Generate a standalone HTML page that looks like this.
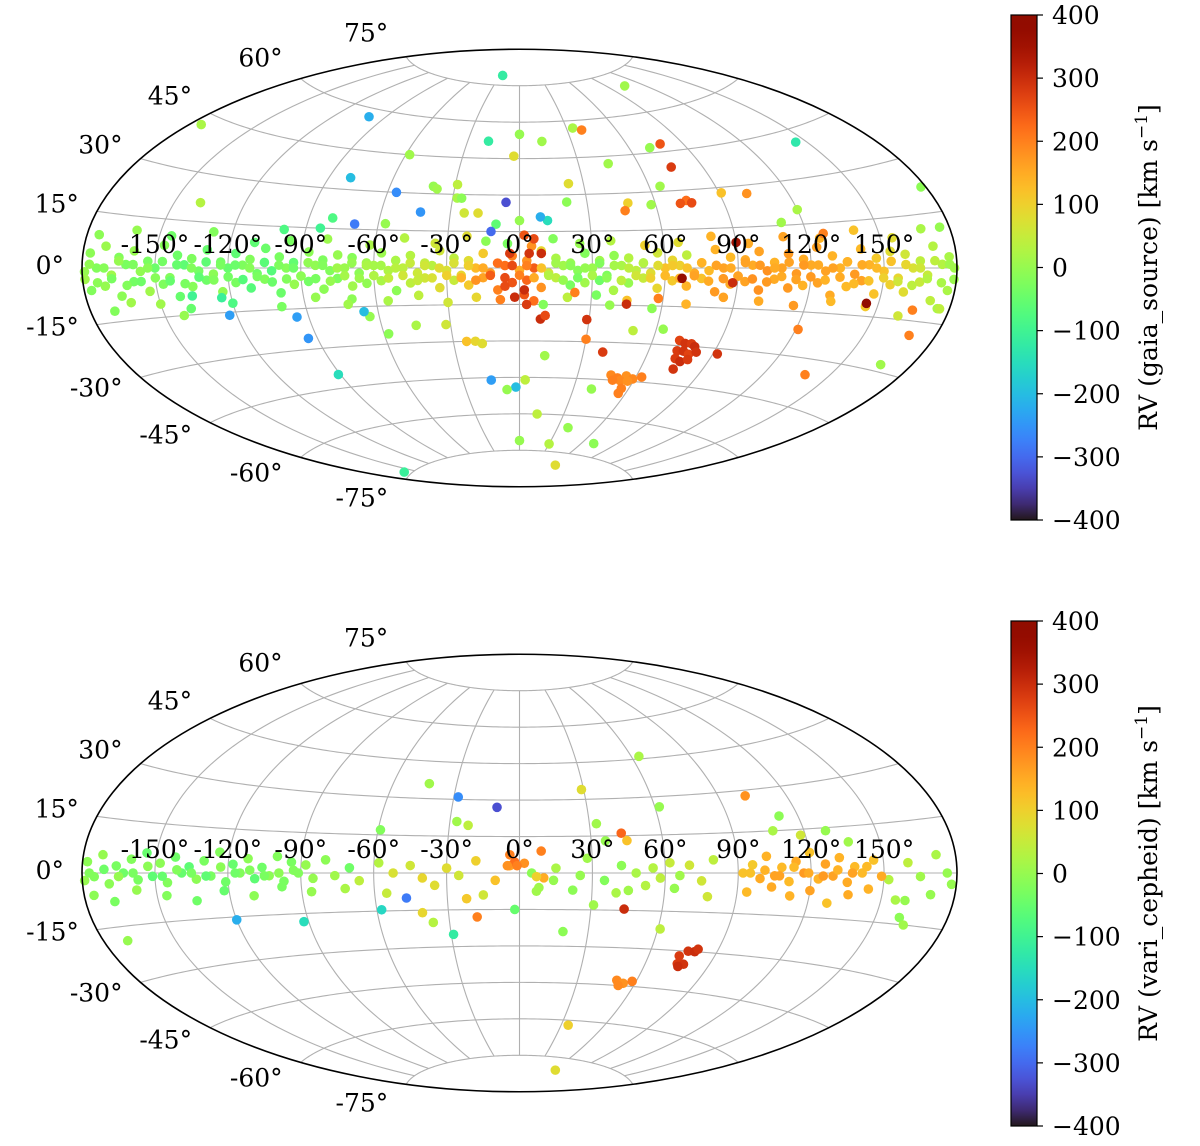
<!DOCTYPE html>
<html><head><meta charset="utf-8"><style>
html,body{margin:0;padding:0;background:#fff;}
svg{display:block;}
text{font-family:"DejaVu Serif","Liberation Serif",serif;fill:#000;}
</style></head>
<body>
<svg id="fig" width="1200" height="1146" viewBox="0 0 1200 1146" xmlns="http://www.w3.org/2000/svg">
<rect width="1200" height="1146" fill="#fff"/>
<defs><linearGradient id="turbo" x1="0" y1="1" x2="0" y2="0"></linearGradient></defs>
</svg>
<script>
// ---------- data: top map (gaia_source) ----------
const band1Lon=[-177,-171,-165,-159,-153,-147,-141,-135,-129,-123,-117,-111,-105,-99,-93,-87,-81,-75,-69,-63,-57,-51,-45,-39,-33,-27,-21,-15,-9,-3,3,9,15,21,27,33,39,45,51,57,63,69,75,81,87,93,99,105,111,117,123,129,135,141,147,153,159,165,171,177];
const band1Lat=[4,6,3,5,2,7,4,3,6,2,5,3,7,4,2,6,3,5,4,2,6,3,5,2,7,4,3,6,2,5,3,7,4,2,6,3,5,4,2,6,3,5,2,7,4,3,6,2,5,3,7,4,2,6,3,5,4,2,6,3];
const band1Rv=[-10,5,-20,0,-30,-15,-40,-25,-50,-35,-60,-20,-45,-30,-55,-10,-25,0,-15,10,5,20,30,45,60,40,80,110,150,200,180,90,20,0,-20,10,-5,30,15,60,90,40,120,140,130,150,160,140,170,150,160,140,150,130,110,80,60,40,30,20];
const band2Lon=[-179,-174,-168,-162,-156,-150,-144,-138,-132,-126,-120,-114,-108,-102,-96,-90,-84,-78,-72,-66,-60,-54,-48,-42,-36,-30,-24,-18,-12,-6,0,6,12,18,24,30,36,42,48,54,60,66,72,78,84,90,96,102,108,114,120,126,132,138,144,150,156,162,168,174,179];
const band2Lat=[-1,0,-2,1,-1,0,-3,1,-1,-2,0,1,-2,-1,0,-3,1,-1,0,-2,1,-1,0,-2,1,-1,-3,0,-2,1,-1,0,-2,1,-1,0,-3,1,-1,-2,0,1,-2,-1,0,-3,1,-1,0,-2,1,-1,0,-2,1,-1,-3,0,-2,1,0];
const band2Rv=[0,-20,10,-30,-5,-45,-20,-60,-35,-10,-50,-25,-40,-70,-15,-30,-5,-20,5,-10,15,25,40,55,35,70,90,130,170,220,150,240,60,10,-15,5,-25,20,40,80,120,100,150,130,160,170,150,180,160,170,150,160,140,170,140,120,90,70,50,30,10];
const band3Lon=[-177,-171,-165,-159,-153,-147,-141,-135,-129,-123,-117,-111,-105,-99,-93,-87,-81,-75,-69,-63,-57,-51,-45,-39,-33,-27,-21,-15,-9,-3,3,9,15,21,27,33,39,45,51,57,63,69,75,81,87,93,99,105,111,117,123,129,135,141,147,153,159,165,171,177];
const band3Lat=[-6,-5,-8,-4,-7,-5,-9,-6,-4,-8,-5,-7,-4,-9,-6,-5,-8,-4,-7,-6,-5,-9,-6,-4,-8,-5,-7,-4,-9,-6,-5,-8,-4,-7,-6,-5,-9,-6,-4,-8,-5,-7,-4,-9,-6,-5,-8,-4,-7,-6,-5,-9,-6,-4,-8,-5,-7,-4,-9,-6];
const band3Rv=[-20,0,-10,-35,10,-25,-50,-15,-40,-5,-30,-70,-20,-45,0,-35,-10,-25,10,-5,20,-10,40,60,80,50,110,160,200,250,230,180,40,-30,10,-40,20,0,50,90,110,140,120,170,150,160,180,150,170,140,160,150,130,160,120,100,80,50,40,20];
const band4Lon=[-175,-160,-145,-128,-110,-95,-80,-62,-48,-35,-22,-14,-5,5,14,25,38,52,66,80,95,110,125,140,155,168];
const band4Lat=[9,11,10,12,9,10,11,9,12,10,13,11,10,9,12,10,11,9,10,12,9,11,10,12,9,11];
const band4Rv=[-10,0,-40,-20,-60,-30,5,20,30,60,80,-10,-30,180,-20,0,30,100,80,140,150,160,140,120,80,20];
const band5Lon=[-170,-150,-138,-120,-100,-85,-70,-55,-42,-30,-18,-8,2,10,20,32,45,58,70,85,100,115,130,145,160,175];
const band5Lat=[-12,-11,-13,-12,-14,-11,-12,-13,-11,-14,-12,-13,-11,-15,-12,-11,-13,-12,-14,-11,-12,-13,-11,-12,-14,-11];
const band5Rv=[-20,10,-50,-80,-30,0,-10,20,40,60,90,200,250,-20,40,-30,120,200,140,160,150,170,130,110,60,20];
const band6Lat=[1,0,2,1,0,2,1,0,2,1,1,0,2,1,0,2,1,0,2,1,1,0,2,1,0,2,1,0,2,1,1,0,2,1,0,2,1,0,2,1,1,0,2,1,0,2,1,0,2,1,1,0,2,1,0,2,1,0,2,1];
const band6Rv=[-5,-15,0,-25,-10,-35,-50,-20,-60,-30,-45,-15,-65,-25,-40,-5,-20,10,0,20,15,35,50,60,80,70,100,150,220,260,200,120,10,-10,0,-20,15,40,30,80,110,120,140,160,150,160,170,150,160,170,150,160,140,150,130,120,90,60,40,10];
const band7Lat=[-3,-4,-3,-5,-4,-3,-4,-5,-3,-4,-3,-4,-3,-5,-4,-3,-4,-5,-3,-4,-3,-4,-3,-5,-4,-3,-4,-5,-3,-4,-3,-4,-3,-5,-4,-3,-4,-5,-3,-4,-3,-4,-3,-5,-4,-3,-4,-5,-3,-4,-3,-4,-3,-5,-4,-3,-4,-5,-3,-4,-3];
const band7Rv=[10,-10,-30,-20,-40,-15,-50,-30,-60,-20,-35,-70,-30,-45,-20,-10,-30,0,15,5,25,45,60,50,70,100,140,180,240,260,200,150,30,0,-30,20,-10,40,60,100,130,140,160,150,170,160,180,170,150,160,170,140,150,130,120,100,60,40,30,20,5];
const topScLon=[-26,-175,-100,-58,-80,-56,-70,-139,-40,-38,-28,-26,-43,-18,0,13,-3,34,39,45,105,71,78,75,65,91,145,102,178,23,120,111,127,74,76,71,48,46,58,90,21,0,-10,-12,-6,-18,-24,-29,12,9,-57,-80,-84,-99,-136,-124,-123,-95,-94,-91,-142,-162,-72,-64,-66,-58,-45,-32,-24,-20,-17,-15,-2,-7,3,12,12,0,30,62,40,71,56,38,39,29,30,38,45,56,50,23,9,11,6,3,2,-4,4,9,6,2,-6,-2];
const topScLat=[79,42,57,45,34.5,30,17,21,33,32,28.5,28.5,22.5,52,55,52,46,57,56,42,70,47,48,39,32,28,41,27,22,34.5,20,16,11.5,26,25,25,26,23,25,9.5,27,19.5,18,15,27,22.5,22.5,34,19.5,21,17.5,19,15,14,-9,-10,-16,-18,-26,-40,-15,-10,-14,-19,-17,-26,-23,-23,-30,-30,-31,-46,-49,-50,-46,-36,-60,-71,-72,-80,-49,-70,-50,-65,-34,-21,-29,-15,-14.5,-16,-25,-10,-21,-19.5,-13.5,-15,-9,6,6,6,12,13.5,-7.5,-12];
const topScRv=[-120,20,-220,10,-200,-260,-280,30,0,10,20,-10,-250,-120,0,10,80,20,200,10,10,0,250,280,10,120,-130,180,-10,80,20,10,200,220,260,250,100,200,10,350,-10,0,-60,-300,-330,80,60,40,-150,-220,0,-80,-100,-80,-100,-110,-240,-240,-250,-150,0,10,10,0,-200,-10,20,60,120,90,80,-240,-200,0,40,10,40,0,30,80,0,-10,200,0,280,290,200,0,300,-10,40,200,300,260,220,280,300,280,290,300,260,250,260,300];
const topLmcLon=[72,75,78,80,73,76,79,82,74,77,80,76,92];
const topLmcLat=[-28,-29,-29,-30,-32,-32,-33,-32,-35,-36,-35,-39,-32];
const topLmcRv=[270,290,280,300,280,290,270,290,280,300,280,290,290];
const topSmcLon=[47,51,55,59,63,53,57,49,56];
const topSmcLat=[-43,-44,-43,-44,-43,-45,-45,-45,-48];
const topSmcRv=[190,200,180,190,200,190,180,200,200];
const topExLon=[121,139,169,167,145,165,63,67,88,176,176,-160];
const topExLat=[-21,-35,-19,-28,-11,-12,-24,-4,-5.5,-11,11,-74];
const topExRv=[200,200,200,10,380,200,0,370,300,40,0,-110];

// ---------- data: bottom map (vari_cepheid) ----------
const bb1Lon=[-178,-172,-166,-160,-154,-148,-142,-136,-130,-124,-118,-112,-106,-100,-94,-88,-80,-70,-58,-45,-30,-18,-4,2,15,28,42,55,62,70,80,96,102,108,114,120,126,132,138,146,160,172];
const bb1Lat=[3,5,2,4,6,3,5,2,4,7,3,5,2,6,4,3,5,2,4,3,2,5,3,4,2,6,3,2,4,3,5,3,6,2,4,7,3,5,2,4,3,5];
const bb1Rv=[-10,0,-30,-20,-50,-10,-40,-60,-30,-20,-50,-10,-40,-20,-30,0,-10,-40,30,60,80,100,160,180,20,10,-10,30,50,60,40,110,140,130,150,120,160,140,130,120,40,20];
const bb2Lon=[-179,-175,-169,-163,-157,-151,-145,-139,-133,-127,-121,-115,-109,-103,-97,-91,-85,-76,-66,-52,-40,-25,-10,5,10,25,35,48,58,66,75,92,99,105,111,117,123,129,135,141,152,165,178];
const bb2Lat=[-2,-1,-3,0,-2,-1,-3,0,-2,-1,-3,0,-2,-1,-3,0,-2,-1,-3,0,-2,-1,-3,0,-2,-1,-3,0,-2,-1,-3,0,-2,-1,-3,0,-2,-1,-3,0,-2,-1,-3];
const bb2Rv=[0,-20,-10,-40,-30,-60,-20,-50,-10,-30,-40,-20,-60,-10,-30,-20,0,10,40,70,90,60,120,-10,150,0,-20,20,40,10,60,120,150,160,130,170,140,160,150,130,30,10,0];
const bb3Lon=[-176,-168,-158,-146,-134,-122,-110,-98,-86,-72,-55,-35,-15,8,22,40,52,64,78,94,104,112,120,128,136,144,156,170];
const bb3Lat=[-6,-8,-5,-7,-9,-6,-8,-5,-7,-6,-8,-5,-9,-6,-7,-8,-5,-6,-9,-7,-5,-8,-6,-10,-7,-5,-8,-6];
const bb3Rv=[-10,-30,0,-20,-40,-50,-10,-30,0,20,50,80,60,10,-10,20,30,0,60,130,150,140,160,120,150,140,20,0];
const bb4Lon=[-177,-171,-165,-159,-153,-147,-141,-135,-129,-123,-117,-111,-105,-99,-93,95,101,107,113,119,125,131,137,143,149];
const bb4Lat=[0,1,-1,0,2,-1,1,0,-1,2,0,1,-1,0,1,0,1,-1,2,0,-1,1,0,2,-1];
const bb4Rv=[-20,-40,0,-30,-10,-50,-20,-30,-60,-10,-40,-20,-30,-10,-20,120,140,160,130,150,170,140,160,130,150];
const botScLon=[64,62,102,29,43,45,36,33,44,31,19,7,-2,-18,-22,-29,-37,-41,-47,-58,-92,-120,-170,-59,-43,-28,-10,-27,-22,35,62,107,112,129,118,137,160,163,160,176,61,45,9,7,14,-4,-2,-5,-1];
const botScLat=[46,26,28,34,16,13,13,20,-14.5,-13,-24,-7.5,-15,-18,-10.5,-25,-20,-16,-10,-14.5,-18,-16,-19,17,36,31,27,21,19.5,-62,-80,15,20,14,13,10,-13,-15,-8,0,-22,-7,9,-1.5,-3,7.5,4.5,3,3];
const botScRv=[20,0,180,80,230,120,0,10,300,10,-10,10,-50,200,110,-120,30,90,-280,-160,-150,-220,0,-20,10,-260,-330,10,40,100,80,20,-10,0,60,10,-10,10,0,0,40,10,200,100,0,200,220,180,200];
const botSmcLon=[50,54,58,52];
const botSmcLat=[-43,-44,-43,-45];
const botSmcRv=[190,180,200,190];
const botLmcLon=[74,77,80,75,78,76,81];
const botLmcLat=[-32,-30,-30,-35,-35,-36,-29];
const botLmcRv=[280,290,300,280,290,300,290];

const lonTicks=[-150,-120,-90,-60,-30,0,30,60,90,120,150];
const latTicks=[75,60,45,30,15,0,-15,-30,-45,-60,-75];
const cbTicks=[400,300,200,100,0,-100,-200,-300,-400];

const topLon=[].concat(band1Lon,band2Lon,band3Lon,band4Lon,band5Lon,band1Lon,band2Lon,topScLon,topLmcLon,topSmcLon,topExLon);
const topLat=[].concat(band1Lat,band2Lat,band3Lat,band4Lat,band5Lat,band6Lat,band7Lat,topScLat,topLmcLat,topSmcLat,topExLat);
const topRv=[].concat(band1Rv,band2Rv,band3Rv,band4Rv,band5Rv,band6Rv,band7Rv,topScRv,topLmcRv,topSmcRv,topExRv);
const botLon=[].concat(bb1Lon,bb2Lon,bb3Lon,bb4Lon,botScLon,botSmcLon,botLmcLon);
const botLat=[].concat(bb1Lat,bb2Lat,bb3Lat,bb4Lat,botScLat,botSmcLat,botLmcLat);
const botRv=[].concat(bb1Rv,bb2Rv,bb3Rv,bb4Rv,botScRv,botSmcRv,botLmcRv);

// ---------- rendering ----------
const NS='http://www.w3.org/2000/svg';
const svg=document.getElementById('fig');
const CX=519.5, SC=437.5/Math.PI;
function turbo(t){t=Math.max(0,Math.min(1,t));
 const r=0.13572138+t*(4.61539260+t*(-42.66032258+t*(132.13108234+t*(-152.94239396+t*59.28637943))));
 const g=0.09140261+t*(2.19418839+t*(4.84296658+t*(-14.18503333+t*(4.27729857+t*2.82956604))));
 const b=0.10667330+t*(12.64194608+t*(-60.58204836+t*(110.36276771+t*(-89.90310912+t*27.34824973))));
 const c=v=>Math.round(Math.max(0,Math.min(1,v))*255);
 return 'rgb('+c(r)+','+c(g)+','+c(b)+')';}
function cnorm(v){return (v+400)/800;}
function proj(cy,lon,lat){
 const l=lon*Math.PI/180, p=lat*Math.PI/180;
 const a=Math.acos(Math.cos(p)*Math.cos(l/2));
 const s=a<1e-9?1:Math.sin(a)/a;
 return [CX+SC*2*Math.cos(p)*Math.sin(l/2)/s, cy-SC*Math.sin(p)/s];}
function mk(tag,attrs,parent){const e=document.createElementNS(NS,tag);for(const k in attrs)e.setAttribute(k,attrs[k]);(parent||svg).appendChild(e);return e;}

const grad=document.getElementById('turbo');
for(let i=0;i<=32;i++){const st=document.createElementNS(NS,'stop');st.setAttribute('offset',(i/32).toFixed(4));st.setAttribute('stop-color',turbo(i/32));grad.appendChild(st);}

const latDy={'75':24,'60':21,'45':18,'30':14,'15':8,'0':3,'-15':-2,'-30':-10,'-45':-12,'-60':-15,'-75':-18};

function drawMap(cy,lons,lats,rvs,name,cbTop,cbLabel){
 const g=mk('g',{});
 
 
 for(const la of latTicks){
  let d='';for(let lo=-180;lo<=180;lo+=2){const q=proj(cy,lo,la);d+=(lo===-180?'M':'L')+q[0].toFixed(2)+' '+q[1].toFixed(2);}
  const p=mk('path',{d:d,fill:'none',stroke:'#b0b0b0','stroke-width':1.1},g);
  
  
 }
 for(const lo of lonTicks){
  let d='';for(let la=-75;la<=75;la+=1.5){const q=proj(cy,lo,la);d+=(la===-75?'M':'L')+q[0].toFixed(2)+' '+q[1].toFixed(2);}
  const p=mk('path',{d:d,fill:'none',stroke:'#b0b0b0','stroke-width':1.1},g);
  
  
 }
 for(let i=0;i<lons.length;i++){
  const q=proj(cy,lons[i],lats[i]);
  const c=mk('circle',{cx:q[0].toFixed(2),cy:q[1].toFixed(2),r:4.8,fill:turbo(cnorm(rvs[i]))},g);
  
  
 }
 const bd=mk('ellipse',{cx:CX,cy:cy,rx:437.5,ry:218.75,fill:'none',stroke:'#000','stroke-width':1.6},g);
 
 
 for(const lo of lonTicks){
  const q=proj(cy,lo,0);
  const t=mk('text',{x:q[0].toFixed(1),y:(cy-15).toFixed(1),'font-size':25,'text-anchor':'middle'},g);
  t.textContent=lo+'°';
  
  
 }
 for(const la of latTicks){
  const q=proj(cy,-180,la);
  const t=mk('text',{x:(q[0]-18).toFixed(1),y:(q[1]-latDy[la]+9).toFixed(1),'font-size':25,'text-anchor':'end'},g);
  t.textContent=la+'°';
  
  
 }
 const cbH=505, cbX=1011, cbW=26;
 const cg=mk('g',{});
 
 
 const r=mk('rect',{x:cbX,y:cbTop,width:cbW,height:cbH,fill:'url(#turbo)',stroke:'#000','stroke-width':1.2},cg);
 
 
 for(const v of cbTicks){
  const y=cbTop+(1-cnorm(v))*cbH;
  const l=mk('line',{x1:cbX+cbW,x2:cbX+cbW+6,y1:y,y2:y,stroke:'#000','stroke-width':1.2},cg);
  
  
  const t=mk('text',{x:1052,y:(y+9).toFixed(1),'font-size':25},cg);
  t.textContent=(v<0?'\u2212'+(-v):String(v));
  
  
 }
 const lc=cbTop+cbH/2;
 const lt=mk('text',{x:0,y:0,'font-size':25,'text-anchor':'middle',transform:'translate(1157,'+lc+') rotate(-90)'},cg);
 
 
 lt.appendChild(document.createTextNode(cbLabel+' [km s'));
 const sup=document.createElementNS(NS,'tspan');sup.setAttribute('dy','-10');sup.setAttribute('font-size','17');sup.textContent='\u22121';lt.appendChild(sup);
 const cl=document.createElementNS(NS,'tspan');cl.setAttribute('dy','10');cl.textContent=']';lt.appendChild(cl);
}
drawMap(268,topLon,topLat,topRv,'gaia-source-map',15,'RV (gaia_source)');
drawMap(873,botLon,botLat,botRv,'vari-cepheid-map',621,'RV (vari_cepheid)');
</script>
</body></html>
